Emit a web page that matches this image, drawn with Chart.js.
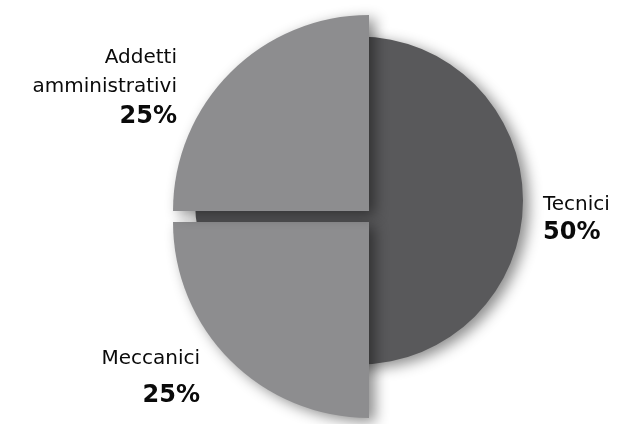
<!DOCTYPE html>
<html><head><meta charset="utf-8">
<script src="https://cdn.jsdelivr.net/npm/chart.js@4/dist/chart.umd.min.js"></script>
<style>html,body{margin:0;padding:0;background:#fff;}#wrap{width:635px;height:424px;}</style>
</head><body><div id="wrap"><canvas id="c" width="635" height="424"></canvas></div>
<script>
// ---- data ----
const categories = ['Tecnici', 'Meccanici', 'Addetti amministrativi'];
const labelLines = [['Tecnici'], ['Meccanici'], ['Addetti', 'amministrativi']];
const shares = [50, 25, 25];
const shareLabels = ['50%', '25%', '25%'];

// ---- style ----
const sliceColors = ['#59595b', '#8d8d8f', '#8d8d8f'];
const sliceOffsets = [0, 31, 31];
const darkSlice = { dx: -15.5, dy: -16, r: 164 };
const labelLayout = [
  { x: 543, y: 210, align: 'left', lineGap: 29, valueGap: 29 },
  { x: 200, y: 364, align: 'right', lineGap: 29, valueGap: 38 },
  { x: 177, y: 63, align: 'right', lineGap: 29, valueGap: 31 }
];
const FONT = '"DejaVu Sans", sans-serif';

const piePlugin = {
  id: 'piePlugin',
  afterDatasetsUpdate(chart) {
    const meta = chart.getDatasetMeta(0);
    const arc = meta.data[0];
    const cx = (chart.chartArea.left + chart.chartArea.right) / 2;
    const cy = (chart.chartArea.top + chart.chartArea.bottom) / 2;
    arc.x = cx + darkSlice.dx;
    arc.y = cy + darkSlice.dy;
    arc.outerRadius = darkSlice.r;
    arc.startAngle = arc.endAngle - 2 * Math.PI;
  },
  beforeDatasetsDraw(chart) {
    const ctx = chart.ctx;
    ctx.save();
    ctx.shadowColor = 'rgba(0,0,0,0.45)';
    ctx.shadowBlur = 14;
    ctx.shadowOffsetX = 6;
    ctx.shadowOffsetY = 4;
  },
  afterDatasetsDraw(chart) {
    const ctx = chart.ctx;
    ctx.restore();
    ctx.save();
    ctx.fillStyle = '#0a0a0a';
    ctx.textBaseline = 'alphabetic';
    labelLayout.forEach((p, i) => {
      ctx.textAlign = p.align;
      let y = p.y;
      ctx.font = '20px ' + FONT;
      labelLines[i].forEach((ln, k) => {
        if (k > 0) y += p.lineGap;
        ctx.fillText(ln, p.x, y);
      });
      y += p.valueGap;
      ctx.font = 'bold 24px ' + FONT;
      ctx.fillText(shareLabels[i], p.x, y);
    });
    ctx.restore();
  }
};

new Chart(document.getElementById('c'), {
  type: 'pie',
  data: {
    labels: categories,
    datasets: [{
      data: shares,
      backgroundColor: sliceColors,
      borderWidth: 0,
      offset: sliceOffsets,
      radius: 196,
      hoverOffset: 0
    }]
  },
  options: {
    responsive: false,
    devicePixelRatio: 1,
    animation: false,
    events: [],
    layout: { padding: { left: 114, top: 9, right: 0, bottom: 0 } },
    plugins: { legend: { display: false }, tooltip: { enabled: false } }
  },
  plugins: [piePlugin]
});
</script>
</body></html>
